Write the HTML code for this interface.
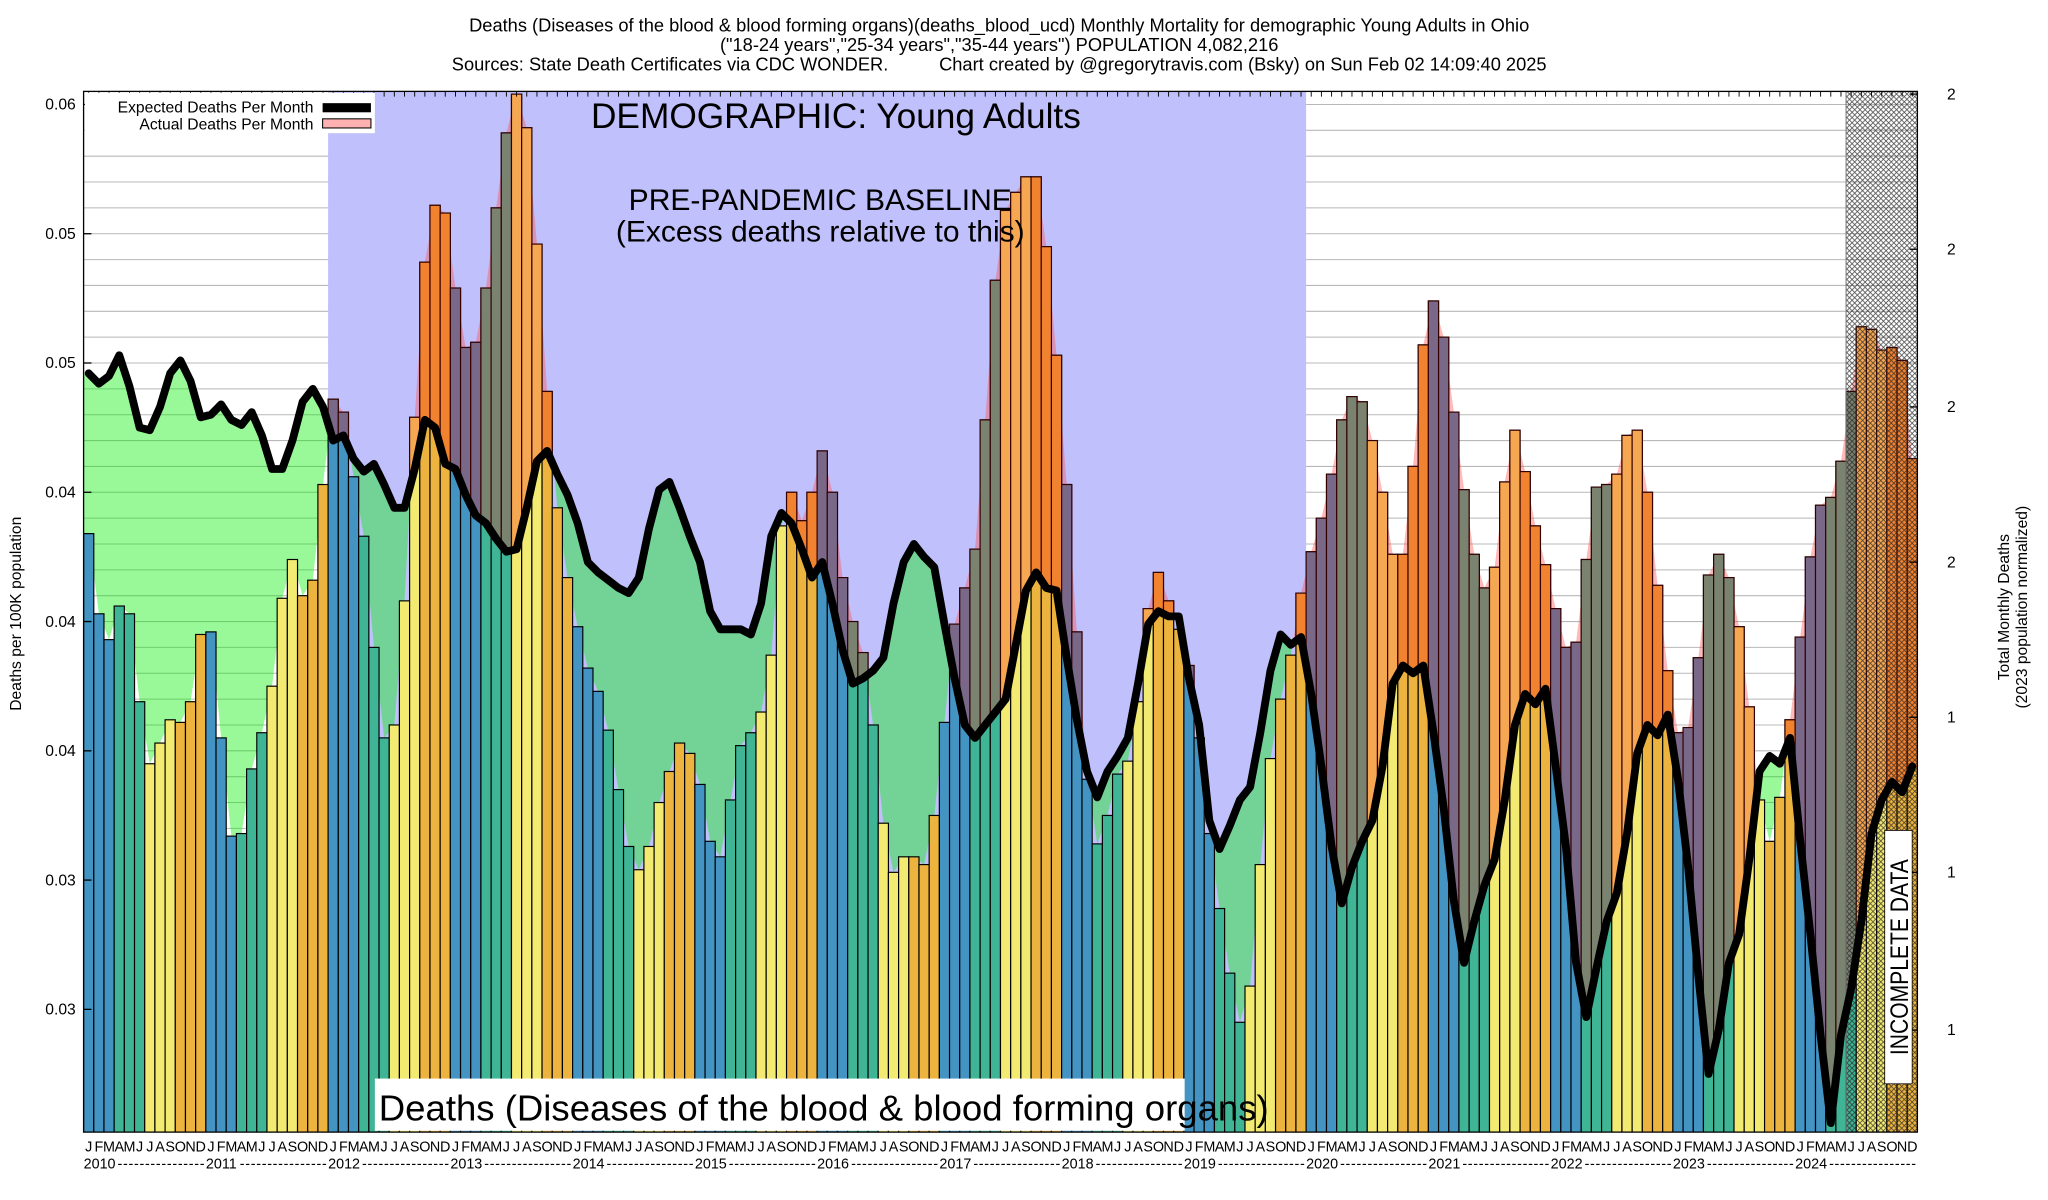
<!DOCTYPE html>
<html><head><meta charset="utf-8"><style>
html,body{margin:0;padding:0;background:#fff;}
svg{display:block;font-family:"Liberation Sans",sans-serif;}
</style></head><body>
<svg id="chart" width="2048" height="1200" viewBox="0 0 1568 919" preserveAspectRatio="none" xmlns="http://www.w3.org/2000/svg">
<defs>
<pattern id="hatch" width="4" height="4" patternUnits="userSpaceOnUse">
<path d="M0,0 L4,4 M4,0 L0,4" stroke="#222" stroke-width="0.6" opacity="0.8"/>
</pattern>
<clipPath id="clip-above-exp"><polygon id="above-exp-poly" points=""/></clipPath>
<clipPath id="clip-above-act"><polygon id="above-act-poly" points=""/></clipPath>
<clipPath id="clip-plot"><rect x="64" y="70" width="1404" height="797"/></clipPath>
</defs>
<g id="layer-grid"></g>
<rect id="baseline" fill="#c0c0fc"/>
<g id="layer-fill" clip-path="url(#clip-plot)"></g>
<g id="layer-bars" clip-path="url(#clip-plot)"></g>
<g id="layer-over" clip-path="url(#clip-plot)"></g>
<g id="layer-line" clip-path="url(#clip-plot)"></g>
<g id="layer-axes"></g>

<text x="765" y="24" font-size="14" text-anchor="middle">Deaths (Diseases of the blood &amp; blood forming organs)(deaths_blood_ucd) Monthly Mortality for demographic Young Adults in Ohio</text>
<text x="765" y="39" font-size="14" text-anchor="middle">("18-24 years","25-34 years","35-44 years") POPULATION 4,082,216</text>
<text x="765" y="54" font-size="14" text-anchor="middle" xml:space="preserve">Sources: State Death Certificates via CDC WONDER.          Chart created by @gregorytravis.com (Bsky) on Sun Feb 02 14:09:40 2025</text>

<g>
<rect x="65" y="71" width="222" height="31" fill="#fff"/>
<text x="240" y="86" font-size="12" text-anchor="end">Expected Deaths Per Month</text>
<rect x="247" y="79" width="37" height="7" fill="#000"/>
<text x="240" y="99" font-size="12" text-anchor="end">Actual Deaths Per Month</text>
<rect x="247" y="91" width="37" height="7" fill="#ffb0b0" stroke="#000" stroke-width="0.8"/>
</g>

<text x="640" y="98" font-size="27" text-anchor="middle">DEMOGRAPHIC: Young Adults</text>
<text x="628" y="161" font-size="23" text-anchor="middle">PRE-PANDEMIC BASELINE</text>
<text x="628" y="185" font-size="23" text-anchor="middle">(Excess deaths relative to this)</text>

<rect x="287" y="826" width="620" height="40" fill="#fff"/>
<text x="290" y="858" font-size="28">Deaths (Diseases of the blood &amp; blood forming organs)</text>

<g>
<rect x="1443" y="636" width="21" height="194" fill="#fff" stroke="#000" stroke-width="0.6"/>
<text x="0" y="0" font-size="19" text-anchor="middle" transform="translate(1461,733) rotate(-90) scale(0.85,1)">INCOMPLETE DATA</text>
</g>

<text x="0" y="0" font-size="12" text-anchor="middle" transform="translate(16,470) rotate(-90)">Deaths per 100K population</text>
<text x="0" y="0" font-size="12" text-anchor="middle" transform="translate(1538,465) rotate(-90)">Total Monthly Deaths</text>
<text x="0" y="0" font-size="12" text-anchor="middle" transform="translate(1552,465) rotate(-90)">(2023 population normalized)</text>
</svg>
<script>
// ---- data ----
const startYear = 2010;
const monthLetters = ["J","F","M","A","M","J","J","A","S","O","N","D"];
const actualDeaths = [
0.0434,0.0403,0.0393,0.0406,0.0403,0.0369,0.0345,0.0353,0.0362,0.0361,0.0369,0.0395,
0.0396,0.0355,0.0317,0.0318,0.0343,0.0357,0.0375,0.0409,0.0424,0.0410,0.0416,0.0453,
0.0486,0.0481,0.0456,0.0433,0.0390,0.0355,0.0360,0.0408,0.0479,0.0539,0.0561,0.0558,
0.0529,0.0506,0.0508,0.0529,0.0560,0.0589,0.0604,0.0591,0.0546,0.0489,0.0444,0.0417,
0.0398,0.0382,0.0373,0.0358,0.0335,0.0313,0.0304,0.0313,0.0330,0.0342,0.0353,0.0349,
0.0337,0.0315,0.0309,0.0331,0.0352,0.0357,0.0365,0.0387,0.0437,0.0450,0.0439,0.0450,
0.0466,0.0450,0.0417,0.0400,0.0388,0.0360,0.0322,0.0303,0.0309,0.0309,0.0306,0.0325,
0.0361,0.0399,0.0413,0.0428,0.0478,0.0532,0.0559,0.0566,0.0572,0.0572,0.0545,0.0503,
0.0453,0.0396,0.0339,0.0314,0.0325,0.0341,0.0346,0.0369,0.0405,0.0419,0.0408,0.0397,
0.0383,0.0355,0.0318,0.0289,0.0264,0.0245,0.0259,0.0306,0.0347,0.0370,0.0387,0.0411,
0.0427,0.0440,0.0457,0.0478,0.0487,0.0485,0.0470,0.0450,0.0426,0.0426,0.0460,0.0507,
0.0524,0.0510,0.0481,0.0451,0.0426,0.0413,0.0421,0.0454,0.0474,0.0458,0.0437,0.0422,
0.0405,0.0390,0.0392,0.0424,0.0452,0.0453,0.0457,0.0472,0.0474,0.0450,0.0414,0.0381,
0.0357,0.0359,0.0386,0.0418,0.0426,0.0417,0.0398,0.0367,0.0331,0.0315,0.0332,0.0362,
0.0394,0.0425,0.0445,0.0448,0.0462,0.0489,0.0514,0.0513,0.0505,0.0506,0.0501,0.0463
];
const expectedDeaths = [
0.0496,0.0492,0.0495,0.0503,0.0491,0.0475,0.0474,0.0483,0.0496,0.0501,0.0493,0.0479,
0.0480,0.0484,0.0478,0.0476,0.0481,0.0472,0.0459,0.0459,0.0470,0.0485,0.0490,0.0483,
0.0470,0.0472,0.0463,0.0458,0.0461,0.0453,0.0444,0.0444,0.0459,0.0478,0.0475,0.0461,
0.0459,0.0449,0.0441,0.0438,0.0432,0.0427,0.0428,0.0444,0.0462,0.0466,0.0457,0.0449,
0.0438,0.0423,0.0419,0.0416,0.0413,0.0411,0.0417,0.0436,0.0451,0.0454,0.0444,0.0433,
0.0423,0.0404,0.0397,0.0397,0.0397,0.0395,0.0407,0.0433,0.0442,0.0438,0.0428,0.0417,
0.0423,0.0407,0.0389,0.0376,0.0378,0.0381,0.0386,0.0407,0.0423,0.0430,0.0425,0.0421,
0.0399,0.0378,0.0360,0.0355,0.0360,0.0365,0.0370,0.0391,0.0412,0.0419,0.0413,0.0412,
0.0386,0.0362,0.0342,0.0332,0.0342,0.0348,0.0355,0.0376,0.0399,0.0404,0.0402,0.0402,
0.0378,0.0360,0.0323,0.0312,0.0321,0.0331,0.0336,0.0357,0.0381,0.0395,0.0391,0.0394,
0.0372,0.0344,0.0313,0.0291,0.0305,0.0315,0.0323,0.0344,0.0376,0.0383,0.0380,0.0383,
0.0357,0.0328,0.0292,0.0268,0.0284,0.0298,0.0308,0.0331,0.0360,0.0372,0.0368,0.0374,
0.0344,0.0313,0.0268,0.0247,0.0266,0.0284,0.0295,0.0318,0.0349,0.0360,0.0356,0.0364,
0.0339,0.0305,0.0263,0.0225,0.0242,0.0268,0.0279,0.0308,0.0342,0.0348,0.0345,0.0355,
0.0315,0.0279,0.0240,0.0206,0.0240,0.0258,0.0284,0.0318,0.0331,0.0338,0.0334,0.0344
];
const yTickValues = [0.060,0.055,0.050,0.045,0.040,0.035,0.030,0.025];
const yTickLabels = ["0.06","0.05","0.05","0.04","0.04","0.04","0.03","0.03"];
const y2TickLabels = ["2","2","2","2","1","1","1"];
const y2TickValues = [0.0604,0.0544,0.0483,0.0423,0.0363,0.0303,0.0242];
const baselineStartMonth = 24, baselineEndMonth = 120;
const incompleteStartMonth = 173;

// ---- scales ----
const PL=64, PR=1468, PT=70, PB=867, MW=(PR-PL)/actualDeaths.length;
function xLeft(i){return PL+i*MW;}
function xMid(i){return PL+(i+0.5)*MW;}
function yPos(v){return 773-(v-0.025)*19800;}
const NS="http://www.w3.org/2000/svg";
function mk(tag,attrs,parent){const e=document.createElementNS(NS,tag);for(const k in attrs)e.setAttribute(k,attrs[k]);parent.appendChild(e);return e;}
const N=actualDeaths.length;
const gGrid=document.getElementById('layer-grid');
const gFill=document.getElementById('layer-fill');
const gBars=document.getElementById('layer-bars');
const gOver=document.getElementById('layer-over');
const gLine=document.getElementById('layer-line');
const gAxes=document.getElementById('layer-axes');

// grid
for(let v=0.021;v<=0.0605;v+=0.001){
  const ln=mk('line',{x1:PL,x2:PR,y1:yPos(v),y2:yPos(v),stroke:"#b8b8b8","stroke-width":0.8},gGrid);
  
  
}
const bl=document.getElementById('baseline');
bl.setAttribute('x',xLeft(baselineStartMonth));bl.setAttribute('y',PT);
bl.setAttribute('width',xLeft(baselineEndMonth)-xLeft(baselineStartMonth));bl.setAttribute('height',PB-PT);

// polylines
function pts(arr){const p=[[PL,yPos(arr[0])]];arr.forEach((v,i)=>p.push([xMid(i),yPos(v)]));p.push([PR,yPos(arr[arr.length-1])]);return p;}
const ePts=pts(expectedDeaths), aPts=pts(actualDeaths);
const str=p=>p.map(q=>q[0].toFixed(2)+','+q[1].toFixed(2)).join(' ');
document.getElementById('above-exp-poly').setAttribute('points',PL+','+(PT-10)+' '+str(ePts)+' '+PR+','+(PT-10));
document.getElementById('above-act-poly').setAttribute('points',PL+','+(PT-10)+' '+str(aPts)+' '+PR+','+(PT-10));
const gf=mk('polygon',{points:str(ePts)+' '+PR+','+PB+' '+PL+','+PB,fill:"rgb(0,240,0)","fill-opacity":0.4,"clip-path":"url(#clip-above-act)"},gFill);


const pf=mk('polygon',{points:str(aPts)+' '+PR+','+PB+' '+PL+','+PB,fill:"rgb(255,80,80)","fill-opacity":0.4,"clip-path":"url(#clip-above-exp)"},gFill);



// bars
const baseCols=["#4393c3","#3fb596","#f3ea72","#ecb43f"];
const overCols=["#7a6888","#7a8270","#f6a752","#f1822f"];
const gOverClip=mk('g',{"clip-path":"url(#clip-above-exp)"},gOver);
actualDeaths.forEach((v,i)=>{
  const q=Math.floor((i%12)/3);
  const r=mk('rect',{x:xLeft(i),y:yPos(v),width:MW,height:PB-yPos(v),fill:baseCols[q],stroke:"#000","stroke-width":0.9},gBars);
  
  
  const o=mk('rect',{x:xLeft(i),y:yPos(v),width:MW,height:PB-yPos(v),fill:overCols[q],stroke:"#300","stroke-width":0.9},gOverClip);
  
  
});
const hz=mk('rect',{x:xLeft(incompleteStartMonth),y:PT,width:PR-xLeft(incompleteStartMonth),height:PB-PT,fill:"url(#hatch)"},gOver);


const hzb=mk('line',{x1:xLeft(incompleteStartMonth),x2:xLeft(incompleteStartMonth),y1:PT,y2:PB,stroke:"#777","stroke-width":0.8},gOver);



// expected line
const el=mk('polyline',{points:expectedDeaths.map((v,i)=>xMid(i).toFixed(2)+','+yPos(v).toFixed(2)).join(' '),fill:"none",stroke:"#000","stroke-width":6,"stroke-linejoin":"round","stroke-linecap":"round"},gLine);



// axes frame
const fr=mk('rect',{x:PL,y:PT,width:PR-PL,height:PB-PT,fill:"none",stroke:"#000","stroke-width":1},gAxes);


yTickValues.forEach((v,k)=>{
  const y=yPos(v);
  mk('line',{x1:PL,x2:PL+6,y1:y,y2:y,stroke:"#000","stroke-width":1},gAxes);
  const t=mk('text',{x:PL-6,y:y+4,"font-size":12,"text-anchor":"end"},gAxes);
  t.textContent=yTickLabels[k];
  
  
});
y2TickValues.forEach((v,k)=>{
  const y=yPos(v);
  mk('line',{x1:PR-6,x2:PR,y1:y,y2:y,stroke:"#000","stroke-width":1},gAxes);
  const t=mk('text',{x:PR+26,y:y+4,"font-size":12,"text-anchor":"middle"},gAxes);
  t.textContent=y2TickLabels[k];
  
  
});
for(let i=0;i<N;i++){
  mk('line',{x1:xMid(i),x2:xMid(i),y1:PT,y2:PT+4,stroke:"#000","stroke-width":0.7},gAxes);
  const t=mk('text',{x:xMid(i),y:PB+15,"font-size":11,"text-anchor":"middle"},gAxes);
  t.textContent=monthLetters[i%12];
  
  
}
for(let y=0;y*12<N;y++){
  const x0=xLeft(y*12);
  const t=mk('text',{x:x0,y:PB+28,"font-size":11},gAxes);
  t.textContent=String(startYear+y);
  
  
  const d=mk('text',{x:x0+26,y:PB+28,"font-size":11,textLength:12*MW-27,lengthAdjust:"spacing"},gAxes);
  d.textContent="----------------";
  
  
}
</script>
</body></html>
